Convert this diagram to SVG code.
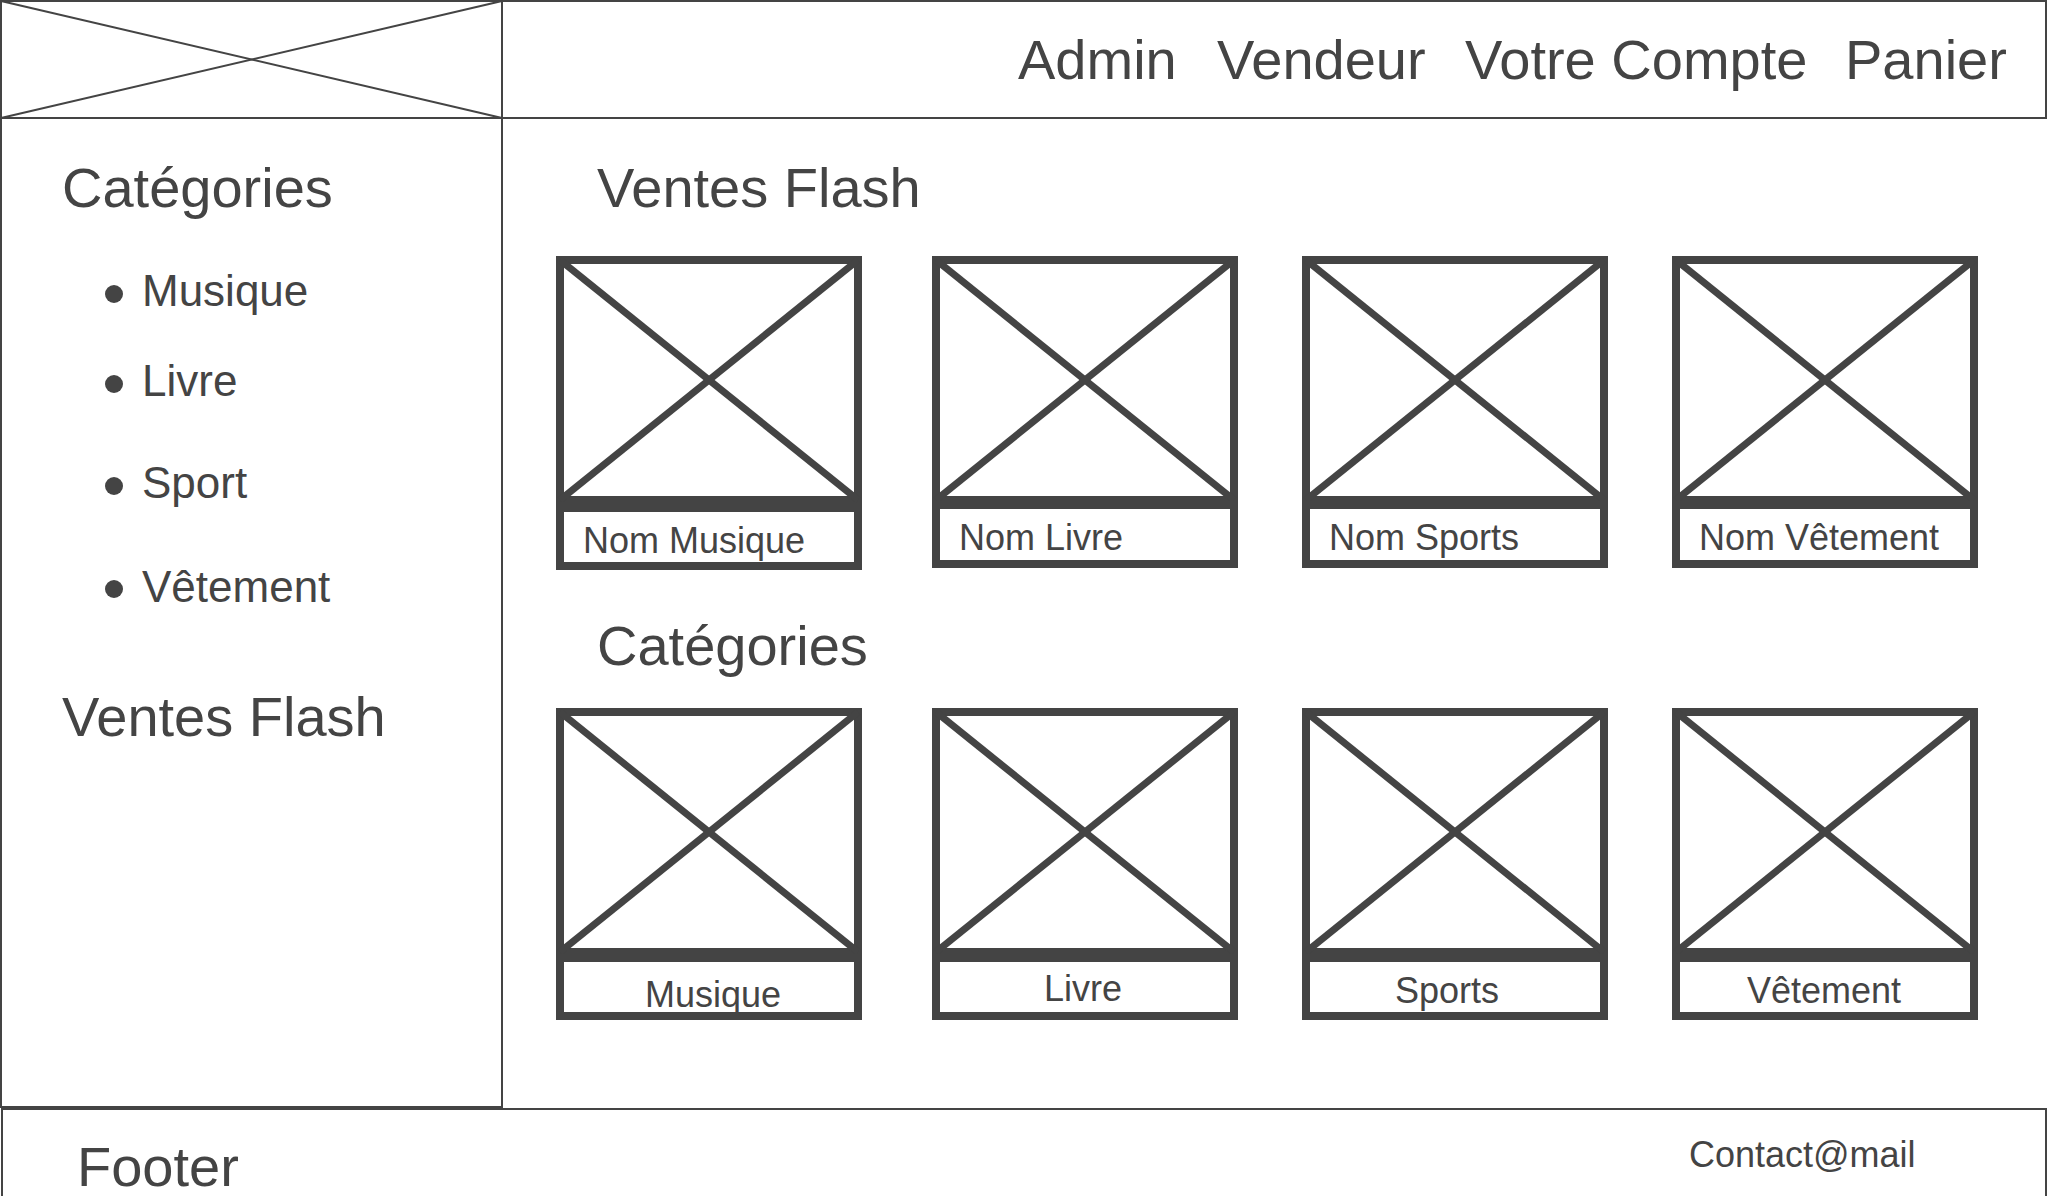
<svg xmlns="http://www.w3.org/2000/svg" width="2048" height="1196" viewBox="0 0 2048 1196">
<style>
.thin{fill:none;stroke:#444444;stroke-width:2}
.box{fill:#ffffff;stroke:#444444;stroke-width:8}
.x{stroke:#444444;stroke-width:7;fill:none}
text{font-family:"Liberation Sans",Arial,sans-serif;fill:#444444}
.big{font-size:56px}
.mid{font-size:44px}
.sm{font-size:36px}
.c{text-anchor:middle}
</style>
<rect width="2048" height="1196" fill="#ffffff"/>
<g id="header">
<rect class="thin" x="1" y="1" width="2045" height="117"/>
<text class="big" x="1018" y="79">Admin</text>
<text class="big" x="1217" y="79">Vendeur</text>
<text class="big" x="1465" y="79">Votre Compte</text>
<text class="big" x="1845" y="79">Panier</text>
</g>
<g id="logo">
<rect class="thin" x="1" y="1" width="501" height="117"/>
<line class="thin" x1="1" y1="1" x2="502" y2="118"/>
<line class="thin" x1="1" y1="118" x2="502" y2="1"/>
</g>
<g id="main">
<line class="thin" x1="502" y1="118" x2="2046" y2="118"/>
<text class="big" x="597" y="207">Ventes Flash</text>
<text class="big" x="597" y="665">Catégories</text>
</g>
<g id="sidebar">
<rect class="thin" x="1" y="118" width="501" height="989"/>
<text class="big" x="62" y="207">Catégories</text>
<circle cx="114" cy="294" r="9" fill="#444444"/>
<text class="mid" x="142" y="306">Musique</text>
<circle cx="114" cy="384" r="9" fill="#444444"/>
<text class="mid" x="142" y="396">Livre</text>
<circle cx="114" cy="486" r="9" fill="#444444"/>
<text class="mid" x="142" y="498">Sport</text>
<circle cx="114" cy="589" r="9" fill="#444444"/>
<text class="mid" x="142" y="602">Vêtement</text>
<text class="big" x="62" y="736">Ventes Flash</text>
</g>
<g id="footer">
<rect class="thin" x="2" y="1109" width="2044" height="100"/>
<text class="big" x="77" y="1186">Footer</text>
<text class="sm" x="1689" y="1167">Contact@mail</text>
</g>
<g id="card-nom-musique">
<rect class="box" x="560" y="260" width="298" height="240"/>
<line class="x" x1="560" y1="260" x2="858" y2="500"/>
<line class="x" x1="560" y1="500" x2="858" y2="260"/>
<rect class="box" x="560" y="508" width="298" height="58"/>
<text class="sm" x="583" y="553">Nom Musique</text>
</g>
<g id="card-nom-livre">
<rect class="box" x="936" y="260" width="298" height="240"/>
<line class="x" x1="936" y1="260" x2="1234" y2="500"/>
<line class="x" x1="936" y1="500" x2="1234" y2="260"/>
<rect class="box" x="936" y="505" width="298" height="59"/>
<text class="sm" x="959" y="550">Nom Livre</text>
</g>
<g id="card-nom-sports">
<rect class="box" x="1306" y="260" width="298" height="240"/>
<line class="x" x1="1306" y1="260" x2="1604" y2="500"/>
<line class="x" x1="1306" y1="500" x2="1604" y2="260"/>
<rect class="box" x="1306" y="505" width="298" height="59"/>
<text class="sm" x="1329" y="550">Nom Sports</text>
</g>
<g id="card-nom-vetement">
<rect class="box" x="1676" y="260" width="298" height="240"/>
<line class="x" x1="1676" y1="260" x2="1974" y2="500"/>
<line class="x" x1="1676" y1="500" x2="1974" y2="260"/>
<rect class="box" x="1676" y="505" width="298" height="59"/>
<text class="sm" x="1699" y="550">Nom Vêtement</text>
</g>
<g id="cat-musique">
<rect class="box" x="560" y="712" width="298" height="240"/>
<line class="x" x1="560" y1="712" x2="858" y2="952"/>
<line class="x" x1="560" y1="952" x2="858" y2="712"/>
<rect class="box" x="560" y="958" width="298" height="58"/>
<text class="sm c" x="713" y="1007">Musique</text>
</g>
<g id="cat-livre">
<rect class="box" x="936" y="712" width="298" height="240"/>
<line class="x" x1="936" y1="712" x2="1234" y2="952"/>
<line class="x" x1="936" y1="952" x2="1234" y2="712"/>
<rect class="box" x="936" y="958" width="298" height="58"/>
<text class="sm c" x="1083" y="1001">Livre</text>
</g>
<g id="cat-sports">
<rect class="box" x="1306" y="712" width="298" height="240"/>
<line class="x" x1="1306" y1="712" x2="1604" y2="952"/>
<line class="x" x1="1306" y1="952" x2="1604" y2="712"/>
<rect class="box" x="1306" y="958" width="298" height="58"/>
<text class="sm c" x="1447" y="1003">Sports</text>
</g>
<g id="cat-vetement">
<rect class="box" x="1676" y="712" width="298" height="240"/>
<line class="x" x1="1676" y1="712" x2="1974" y2="952"/>
<line class="x" x1="1676" y1="952" x2="1974" y2="712"/>
<rect class="box" x="1676" y="958" width="298" height="58"/>
<text class="sm c" x="1824" y="1003">Vêtement</text>
</g>
<g id="connectors"></g>
</svg>
